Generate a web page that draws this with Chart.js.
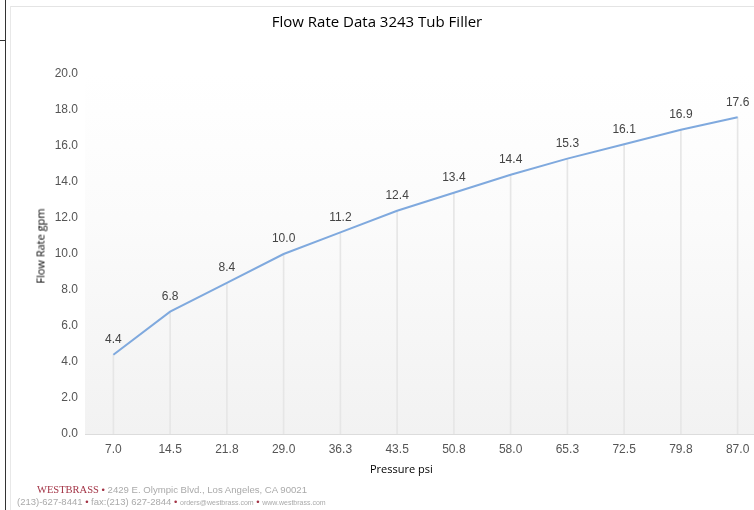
<!DOCTYPE html>
<html>
<head>
<meta charset="utf-8">
<script src="https://cdn.jsdelivr.net/npm/chart.js@4"></script>
<style>
  html, body { margin: 0; padding: 0; background: #fff; overflow: hidden; }
  body { width: 754px; height: 510px; position: relative; }
  #wrap { position: absolute; left: 0; top: 0; width: 790px; height: 510px; }
  .abs { position: absolute; white-space: nowrap; }
  #frameDark { left: 5px; top: 0; width: 1px; height: 510px; background: #333; }
  #frameTick { left: 0; top: 40px; width: 5px; height: 1px; background: #333; }
  #frameTop { left: 10px; top: 6px; width: 744px; height: 1px; background: #e4e4e4; }
  #frameLeft { left: 10px; top: 6px; width: 1px; height: 504px; background: #e8e8e8; }
  #title { left: 0; width: 754px; top: 11px; text-align: center; font: 15px "Open Sans", sans-serif; color: #000; }
  #xTitle { left: 370px; top: 461px; font: 11px "Open Sans", sans-serif; color: #000; }
  #yTitle { left: 40px; top: 246px; font: normal 11px "Open Sans", sans-serif; color: #000;
            transform: translate(-50%, -50%) rotate(-90deg); }
  #foot1 { left: 37px; top: 484px; font: 9.6px "Liberation Sans", sans-serif; color: #aaa; }
  #foot2 { left: 17px; top: 496px; font: 9.5px "Liberation Sans", sans-serif; color: #aaa; }
  .brand { font: 10.5px "Liberation Serif", serif; color: #a33446; }
  .dot { color: #a33446; }
  .small { font-size: 7px; }
</style>
</head>
<body>
<div id="wrap"><canvas id="chart" width="790" height="510"></canvas></div>
<div class="abs" id="frameDark"></div>
<div class="abs" id="frameTick"></div>
<div class="abs" id="frameTop"></div>
<div class="abs" id="frameLeft"></div>
<div class="abs" id="title">Flow Rate Data 3243 Tub Filler</div>
<div class="abs" id="xTitle">Pressure psi</div>
<div class="abs" id="yTitle">Flow Rate gpm</div>
<div class="abs" id="foot1"><span class="brand">WESTBRASS</span> <span class="dot">&bull;</span> 2429 E. Olympic Blvd., Los Angeles, CA 90021</div>
<div class="abs" id="foot2">(213)-627-8441 <span class="dot">&bull;</span> fax:(213) 627-2844 <span class="dot">&bull;</span> <span class="small">orders@westbrass.com</span> <span class="dot">&bull;</span> <span class="small">www.westbrass.com</span></div>

<script>
// Pressure (psi) categories and flow rate (gpm) values
const pressureLabels = ['7.0', '14.5', '21.8', '29.0', '36.3', '43.5', '50.8', '58.0', '65.3', '72.5', '79.8', '87.0'];
const flowRates = [4.4, 6.8, 8.4, 10.0, 11.2, 12.4, 13.4, 14.4, 15.3, 16.1, 16.9, 17.6];
const yMin = 0;
const yMax = 20;
const yStep = 2;

// Light gradient behind the plot area
const plotBackground = {
  id: 'plotBackground',
  beforeDraw(chart) {
    const { ctx, chartArea } = chart;
    const g = ctx.createLinearGradient(0, chartArea.top, 0, chartArea.bottom);
    g.addColorStop(0, '#ffffff');
    g.addColorStop(0.4, '#fbfbfb');
    g.addColorStop(1, '#f2f2f2');
    ctx.save();
    ctx.fillStyle = g;
    ctx.fillRect(chartArea.left, chartArea.top, chartArea.right - chartArea.left, chartArea.bottom - chartArea.top);
    ctx.restore();
  }
};

// Value labels above each point of the line
const valueLabels = {
  id: 'valueLabels',
  afterDatasetsDraw(chart) {
    const { ctx } = chart;
    const meta = chart.getDatasetMeta(1);
    ctx.save();
    ctx.font = '12px "Liberation Sans", Arial, sans-serif';
    ctx.fillStyle = '#444';
    ctx.textAlign = 'center';
    ctx.textBaseline = 'middle';
    meta.data.forEach((pt, i) => {
      ctx.fillText(flowRates[i].toFixed(1), pt.x, pt.y - 15);
    });
    ctx.restore();
  }
};

new Chart(document.getElementById('chart'), {
  data: {
    labels: pressureLabels,
    datasets: [
      {
        // thin drop lines from each point down to the axis
        type: 'bar',
        data: flowRates,
        backgroundColor: '#e6e6e6',
        barThickness: 1,
        order: 2
      },
      {
        type: 'line',
        data: flowRates,
        borderColor: '#7fa9de',
        borderWidth: 2,
        pointRadius: 0,
        tension: 0,
        order: 1
      }
    ]
  },
  options: {
    responsive: false,
    animation: false,
    layout: { padding: { left: 29, right: 24, top: 74, bottom: 0 } },
    plugins: {
      legend: { display: false },
      tooltip: { enabled: false }
    },
    scales: {
      x: {
        offset: true,
        grid: { display: false, drawTicks: false },
        border: { color: '#dcdcdc' },
        ticks: {
          color: '#555',
          padding: 8,
          font: { family: '"Liberation Sans", Arial, sans-serif', size: 12 }
        },
        afterFit(scale) { scale.height = 76; }
      },
      y: {
        min: yMin,
        max: yMax,
        grid: { display: false, drawTicks: false },
        border: { display: false },
        ticks: {
          stepSize: yStep,
          color: '#555',
          padding: 7,
          font: { family: '"Liberation Sans", Arial, sans-serif', size: 12 },
          callback: v => Number(v).toFixed(1)
        },
        afterFit(scale) { scale.width = 56; }
      }
    }
  },
  plugins: [plotBackground, valueLabels]
});
</script>
</body>
</html>
